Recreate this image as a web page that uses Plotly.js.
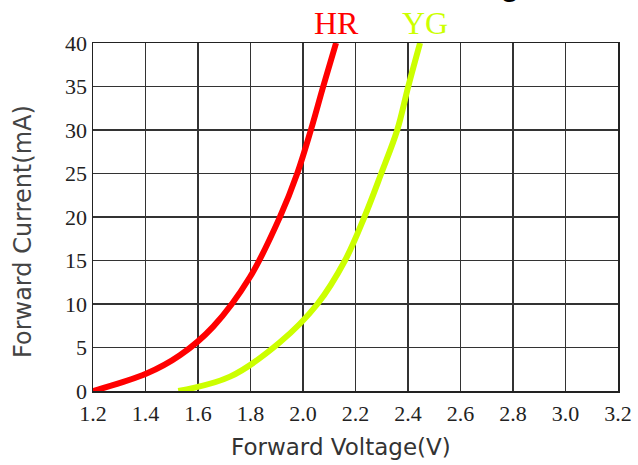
<!DOCTYPE html>
<html>
<head>
<meta charset="utf-8">
<script src="https://cdn.plot.ly/plotly-3.0.1.min.js"></script>
<style>html,body{margin:0;padding:0;background:#fff;}#chart{width:638px;height:465px;}</style>
</head>
<body>
<div id="chart"></div>
<script>
// HR (red) curve: forward voltage (V) vs forward current (mA)
const hrVoltage = [1.20, 1.404, 1.531, 1.658, 1.798, 1.912, 1.978, 2.030, 2.077, 2.126];
const hrCurrent = [0.0, 2.0, 4.1, 7.4, 13.1, 20.0, 25.0, 30.0, 35.0, 40.0];

// YG (yellow-green) curve
const ygVoltage = [1.525, 1.722, 1.912, 2.055, 2.160, 2.234, 2.298, 2.359, 2.401, 2.446];
const ygCurrent = [0.0, 1.65, 5.6, 10.0, 15.0, 20.0, 25.0, 30.0, 35.0, 40.0];

const xTicks = [1.2, 1.4, 1.6, 1.8, 2.0, 2.2, 2.4, 2.6, 2.8, 3.0, 3.2];
const xTickText = ["1.2", "1.4", "1.6", "1.8", "2.0", "2.2", "2.4", "2.6", "2.8", "3.0", "3.2"];
const yTicks = [0, 5, 10, 15, 20, 25, 30, 35, 40];
const yTickText = ["0", "5", "10", "15", "20", "25", "30", "35", "40"];

const traces = [
  {x: hrVoltage, y: hrCurrent, mode: 'lines', name: 'HR',
   line: {color: '#ff0000', width: 6, shape: 'spline', smoothing: 1.0}, cliponaxis: false},
  {x: ygVoltage, y: ygCurrent, mode: 'lines', name: 'YG',
   line: {color: '#ccff00', width: 6, shape: 'spline', smoothing: 1.0}, cliponaxis: false}
];

const L = 93, T = 43, W = 525, H = 348;
const px = v => (v - L) / W;          // pixel x -> paper
const py = v => (T + H - v) / H;      // pixel y -> paper

const layout = {
  width: 638, height: 465,
  margin: {l: L, r: 638 - L - W, t: T, b: 465 - T - H},
  paper_bgcolor: '#ffffff', plot_bgcolor: '#ffffff',
  showlegend: false,
  xaxis: {
    range: [1.2, 3.2], tickvals: xTicks, ticktext: xTickText,
    showgrid: true, gridcolor: '#333333', gridwidth: 1.3,
    showline: true, linecolor: '#222222', linewidth: 1.5, mirror: true,
    zeroline: false, ticks: 'outside', ticklen: 2, tickcolor: 'rgba(0,0,0,0)',
    tickfont: {family: 'Liberation Serif, serif', size: 22, color: '#222'}
  },
  yaxis: {
    range: [0, 40], tickvals: yTicks, ticktext: yTickText,
    showgrid: true, gridcolor: '#333333', gridwidth: 1.3,
    showline: true, linecolor: '#222222', linewidth: 1.5, mirror: true,
    zeroline: false, ticks: '',
    tickfont: {family: 'Liberation Serif, serif', size: 22, color: '#222'}
  },
  annotations: [
    {text: 'HR', xref: 'x', yref: 'paper', x: 2.128, y: py(23), yanchor: 'middle', showarrow: false,
     font: {family: 'Liberation Serif, serif', size: 32, color: '#ff0000'}},
    {text: 'YG', xref: 'x', yref: 'paper', x: 2.465, y: py(23), yanchor: 'middle', showarrow: false,
     font: {family: 'Liberation Serif, serif', size: 32, color: '#ccff00'}},
    {text: 'Forward Voltage(V)', xref: 'paper', yref: 'paper', x: px(341), y: py(447),
     xanchor: 'center', yanchor: 'middle', showarrow: false,
     font: {family: 'DejaVu Sans, sans-serif', size: 23, color: '#333'}},
    {text: 'Forward Current(mA)', xref: 'paper', yref: 'paper', x: px(23), y: py(232), textangle: -90,
     xanchor: 'center', yanchor: 'middle', showarrow: false,
     font: {family: 'DejaVu Sans, sans-serif', size: 24, color: '#444'}},
    {text: '<b>Forward Current Derating</b>', xref: 'paper', yref: 'paper', x: px(521), xanchor: 'right',
     y: py(4), yanchor: 'bottom', showarrow: false,
     font: {family: 'Liberation Sans, Arial, sans-serif', size: 30, color: '#000'}}
  ]
};

Plotly.newPlot('chart', traces, layout, {displayModeBar: false, staticPlot: true});
</script>
</body>
</html>
